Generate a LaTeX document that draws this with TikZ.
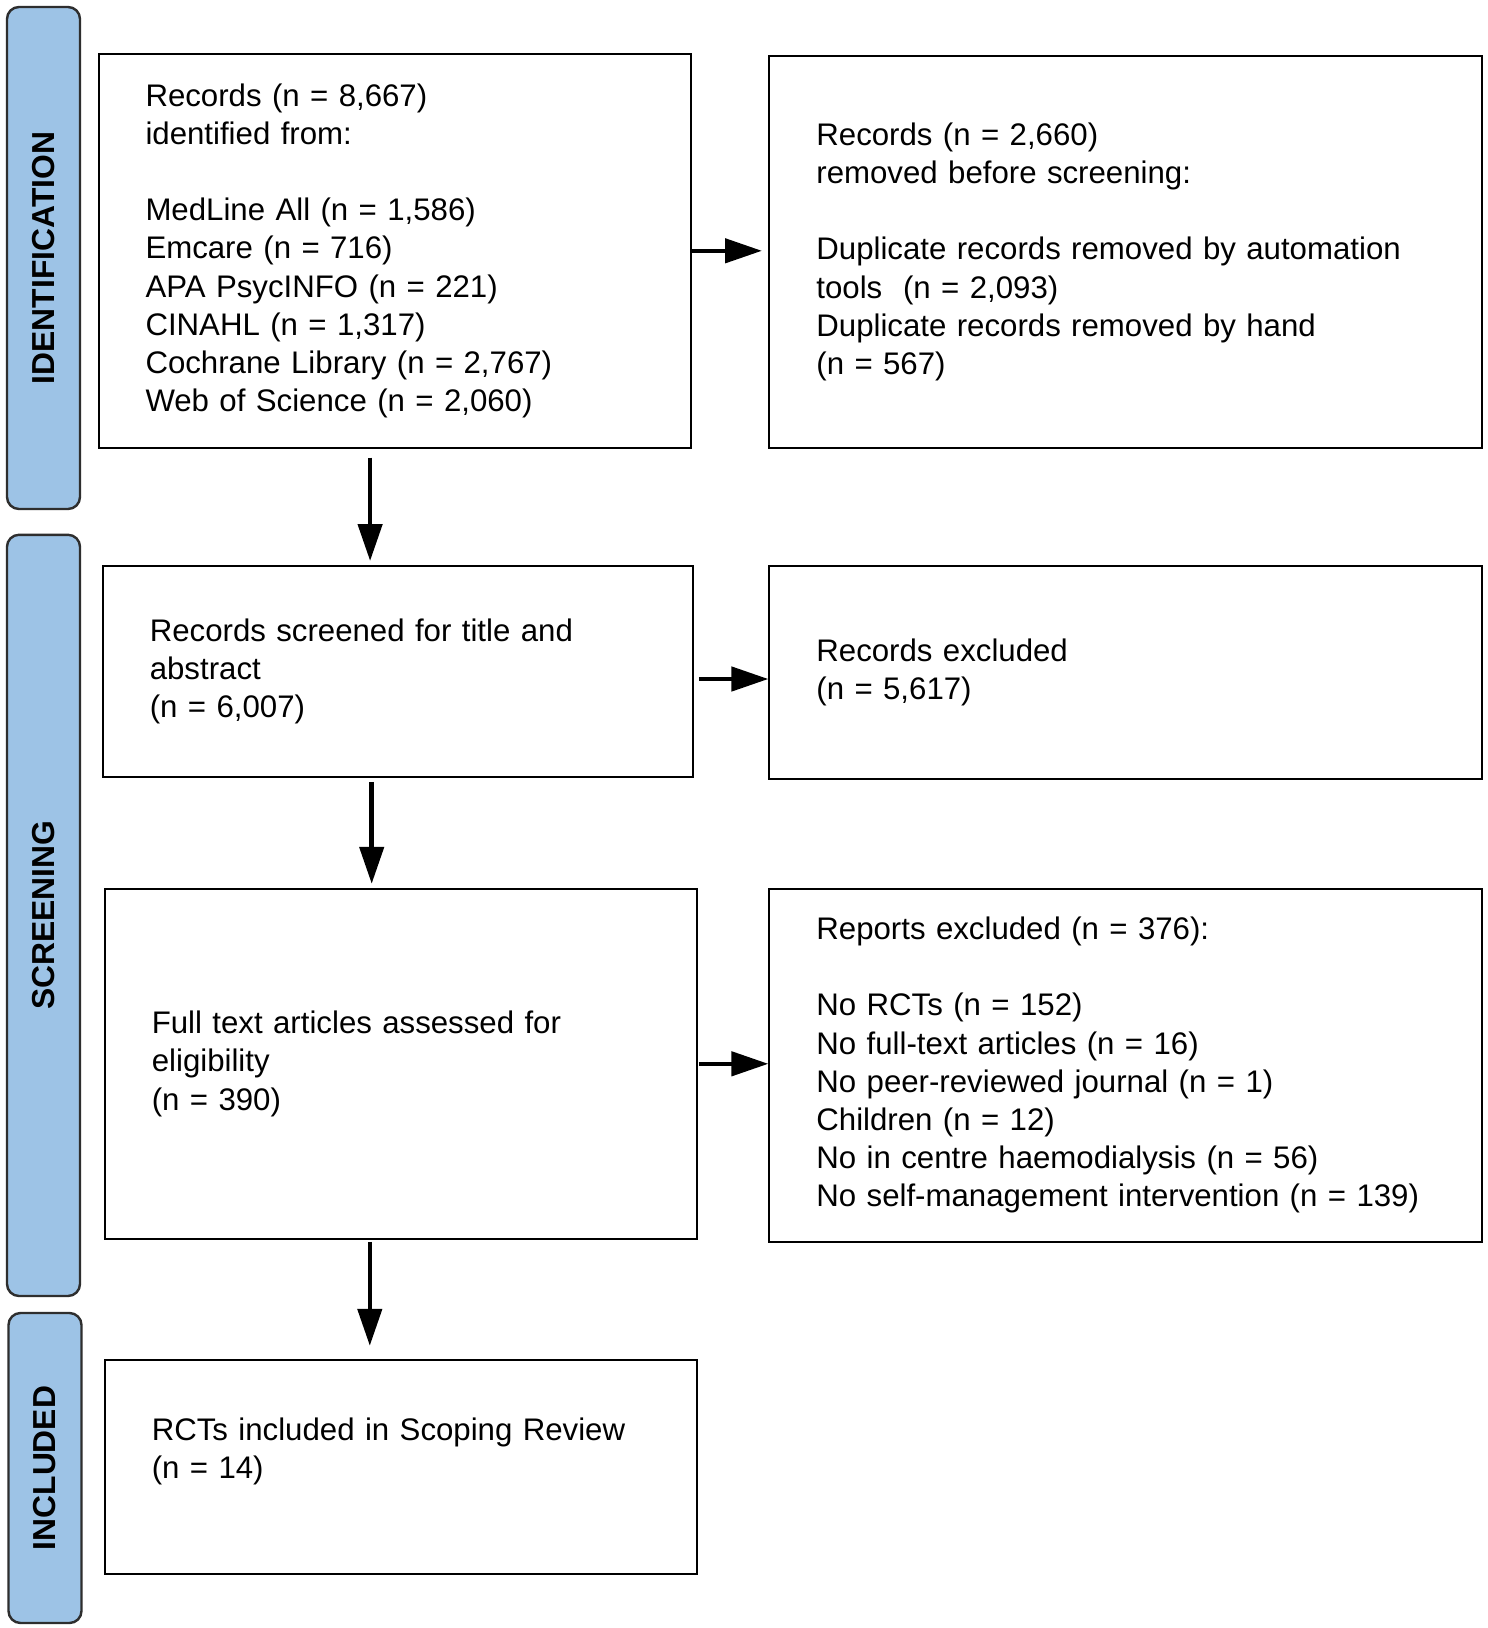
\documentclass[tikz,border=0pt]{standalone}
\usepackage{fontspec}
\setmainfont{Liberation Sans}
\usepackage{tikz}
\usetikzlibrary{arrows.meta}
\definecolor{barfill}{HTML}{9DC3E6}
\definecolor{barline}{HTML}{2E2E2E}
\tikzset{
  stagebar/.style={draw=barline, line width=1.2pt, fill=barfill, rounded corners=6pt, rotate=90,
    minimum height=36.5pt, inner sep=0pt, font=\fontsize{15.9}{19}\selectfont\bfseries},
  flowbox/.style={draw=black, line width=1pt, align=left, inner xsep=23.5pt, inner ysep=0pt,
    font=\fontsize{15.6}{19.1}\selectfont},
  flowarr/.style={line width=2.3pt, -{Triangle[length=18.5pt,width=12pt]}}
}

\begin{document}
\begin{tikzpicture}[x=0.5pt, y=-0.5pt]
  \fill[white] (0,0) rectangle (1488,1628);

  % stage bars on the left
  \node[stagebar, minimum width=251pt] (sid) at (43.5,258) {IDENTIFICATION};
  \node[stagebar, minimum width=380.6pt] (sscr) at (43.5,915.4) {SCREENING};
  \node[stagebar, minimum width=155pt] (sinc) at (45,1468) {INCLUDED};

  % boxes
  \node[flowbox, text width=249pt, minimum height=196.8pt] (ident) at (394.5,250.8)
    {Records (n = 8,667)\\identified from:\\[19.1pt]
     MedLine All (n = 1,586)\\Emcare (n = 716)\\APA PsycINFO (n = 221)\\
     CINAHL (n = 1,317)\\Cochrane Library (n = 2,767)\\Web of Science (n = 2,060)};
  \node[flowbox, text width=309.2pt, minimum height=195.8pt] (removed) at (1125.6,251.8)
    {Records (n = 2,660)\\removed before screening:\\[19.1pt]
     Duplicate records removed by automation\\tools\ \ (n = 2,093)\\
     Duplicate records removed by hand\\(n = 567)};

  \node[flowbox, text width=247.9pt, minimum height=105.4pt] (screened) at (397.7,671.4)
    {Records screened for title and\\abstract\\(n = 6,007)};
  \node[flowbox, text width=309.2pt, minimum height=106.4pt] (excl) at (1125.6,672.4)
    {Records excluded\\(n = 5,617)};

  \node[flowbox, text width=249pt, minimum height=175pt] (fulltext) at (400.8,1063.8)
    {Full text articles assessed for\\eligibility\\(n = 390)};
  \node[flowbox, text width=309.2pt, minimum height=176.3pt] (rep) at (1125.6,1065.2)
    {Reports excluded (n = 376):\\[19.1pt]
     No RCTs (n = 152)\\No full-text articles (n = 16)\\No peer-reviewed journal (n = 1)\\
     Children (n = 12)\\No in centre haemodialysis (n = 56)\\
     No self-management intervention (n = 139)};

  \node[flowbox, text width=249pt, minimum height=107pt] (incl) at (400.8,1467.2)
    {RCTs included in Scoping Review\\(n = 14)\\\mbox{}};

  % arrows
  \draw[flowarr, shorten >=3.2pt] (ident.east) -- (ident.east -| removed.west);
  \draw[flowarr, shorten <=2.6pt] ([yshift=-3.8pt]screened.east) -- ([yshift=-3.8pt]screened.east -| excl.west);
  \draw[flowarr, shorten <=0.5pt] (fulltext.east) -- (fulltext.east -| rep.west);

  \draw[flowarr, shorten <=4.5pt, shorten >=2pt] ([xshift=-12.2pt]ident.south) -- ([xshift=-12.2pt]ident.south |- screened.north);
  \draw[flowarr, shorten <=2pt, shorten >=2pt] ([xshift=-13pt]screened.south) -- ([xshift=-13pt]screened.south |- fulltext.north);
  \draw[flowarr, shorten <=1pt, shorten >=6.7pt] ([xshift=-15.5pt]fulltext.south) -- ([xshift=-15.5pt]fulltext.south |- incl.north);
\end{tikzpicture}
\end{document}
